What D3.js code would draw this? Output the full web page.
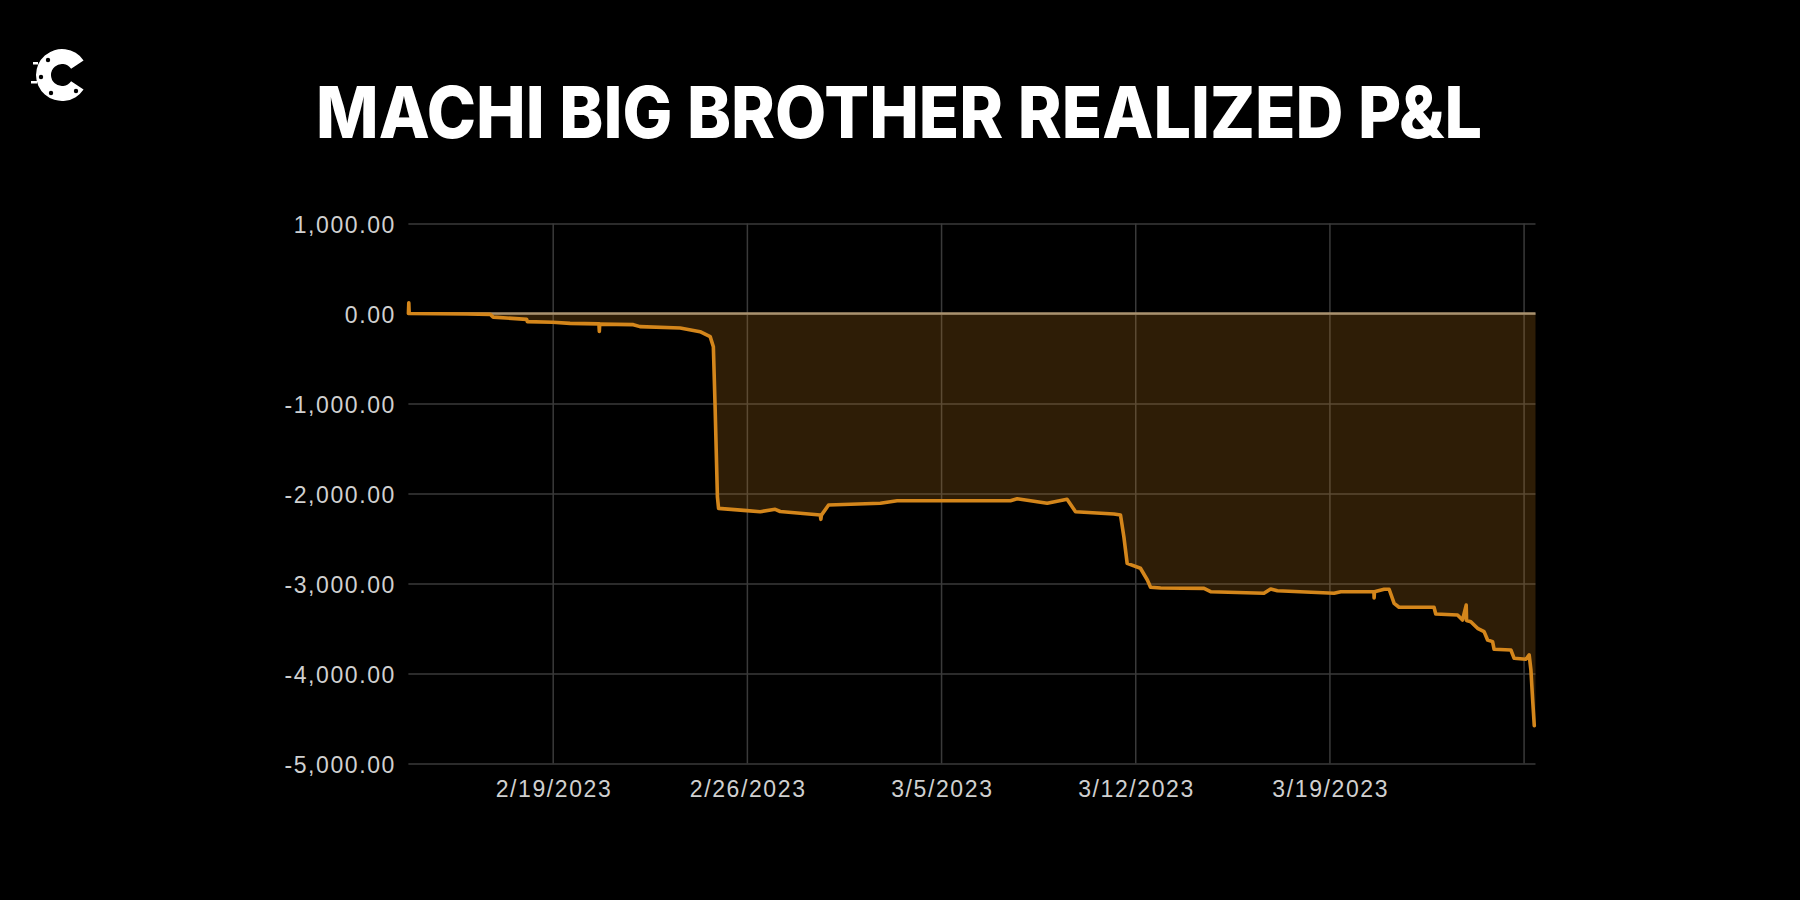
<!DOCTYPE html>
<html>
<head>
<meta charset="utf-8">
<script src="https://cdn.jsdelivr.net/npm/d3@7"></script>
<style>
  html, body { margin: 0; padding: 0; background: #000; }
  svg { display: block; }
</style>
</head>
<body>
<svg id="chart" width="1800" height="900"></svg>
<script>
// ---------------- data ----------------
const titleText = "MACHI BIG BROTHER REALIZED P&L";

const timestamps = [
  "2023-02-13T19:10", "2023-02-13T19:30", "2023-02-13T19:50", "2023-02-15T21:30", "2023-02-16T18:00",
  "2023-02-16T20:30", "2023-02-18T01:30", "2023-02-18T02:00", "2023-02-19T00:00", "2023-02-19T15:00",
  "2023-02-20T16:00", "2023-02-20T16:20", "2023-02-20T16:40", "2023-02-21T21:45", "2023-02-22T03:30",
  "2023-02-23T14:15", "2023-02-24T07:30", "2023-02-24T16:15", "2023-02-24T19:00", "2023-02-24T20:30",
  "2023-02-24T22:30", "2023-02-24T23:30", "2023-02-26T00:00", "2023-02-26T11:30", "2023-02-27T00:30",
  "2023-02-27T04:50", "2023-02-28T15:30", "2023-02-28T16:00", "2023-02-28T16:30", "2023-02-28T22:40",
  "2023-03-02T19:30", "2023-03-03T10:00", "2023-03-05T01:00", "2023-03-07T12:00", "2023-03-07T17:50",
  "2023-03-08T19:50", "2023-03-09T13:00", "2023-03-09T20:20", "2023-03-11T05:30", "2023-03-11T11:15",
  "2023-03-11T14:10", "2023-03-11T17:00", "2023-03-12T04:30", "2023-03-12T10:30", "2023-03-12T13:15",
  "2023-03-12T22:00", "2023-03-14T11:30", "2023-03-14T17:15", "2023-03-16T15:20", "2023-03-16T21:10",
  "2023-03-17T03:00", "2023-03-19T04:00", "2023-03-19T09:50", "2023-03-20T14:30", "2023-03-20T14:40",
  "2023-03-20T15:00", "2023-03-20T23:20", "2023-03-21T03:40", "2023-03-21T08:00", "2023-03-21T12:15",
  "2023-03-22T18:30", "2023-03-22T20:00", "2023-03-23T14:50", "2023-03-23T19:10", "2023-03-23T22:20",
  "2023-03-23T22:40", "2023-03-24T02:20", "2023-03-24T08:10", "2023-03-24T13:50", "2023-03-24T16:50",
  "2023-03-24T21:10", "2023-03-24T22:30", "2023-03-25T13:00", "2023-03-25T15:50", "2023-03-26T02:00",
  "2023-03-26T04:50", "2023-03-26T06:20", "2023-03-26T07:50", "2023-03-26T09:15"
];

const pnl = [
  0, 120, 0, -5, -10,
  -40, -65, -90, -98, -110,
  -115, -200, -118, -124, -146,
  -161, -202, -257, -369, -1036,
  -2036, -2165, -2190, -2202, -2176,
  -2200, -2239, -2287, -2240, -2128,
  -2109, -2080, -2080, -2080, -2058,
  -2109, -2064, -2202, -2228, -2239,
  -2480, -2776, -2831, -2961, -3042,
  -3050, -3054, -3091, -3109, -3061,
  -3080, -3109, -3091, -3091, -3160,
  -3091, -3064, -3064, -3220, -3264,
  -3264, -3339, -3350, -3406, -3240,
  -3410, -3424, -3498, -3535, -3628,
  -3646, -3731, -3739, -3831, -3842,
  -3794, -3961, -4294, -4580
];

const yTicks = [1000, 0, -1000, -2000, -3000, -4000, -5000];
const yTickLabels = ["1,000.00", "0.00", "-1,000.00", "-2,000.00", "-3,000.00", "-4,000.00", "-5,000.00"];

const xGridDates = ["2023-02-19", "2023-02-26", "2023-03-05", "2023-03-12", "2023-03-19", "2023-03-26"];
const xTickLabels = ["2/19/2023", "2/26/2023", "3/5/2023", "3/12/2023", "3/19/2023", ""];

const xDomain = ["2023-02-13T19:09", "2023-03-26T10:18"];
const yDomain = [-5000, 1000];

// ---------------- setup ----------------
const parseT = d3.utcParse("%Y-%m-%dT%H:%M");
const parseD = d3.utcParse("%Y-%m-%d");
const data = timestamps.map((t, i) => ({ t: parseT(t), v: pnl[i] }));
const gridDates = xGridDates.map(parseD);

const svg = d3.select("#chart");
const W = 1800, H = 900;
svg.append("rect").attr("width", W).attr("height", H).attr("fill", "#000");

const plot = { left: 408.4, right: 1535.5, top: 223.5, bottom: 763.5 };

const x = d3.scaleUtc().domain(xDomain.map(parseT)).range([plot.left, plot.right]);
const y = d3.scaleLinear().domain(yDomain).range([plot.bottom, plot.top]);

// title
svg.append("text")
  .attr("x", 899)
  .attr("y", 138)
  .attr("text-anchor", "middle")
  .attr("fill", "#ffffff")
  .attr("font-family", "Inter, 'Noto Sans', sans-serif")
  .attr("font-weight", 800)
  .attr("font-size", 72)
  .attr("textLength", 1166)
  .attr("lengthAdjust", "spacingAndGlyphs")
  .text(titleText);

// logo
const logo = svg.append("g").attr("transform", "translate(62,75)");
logo.append("path")
  .attr("d", d3.arc()
    .innerRadius(11)
    .outerRadius(26)
    .startAngle(Math.PI * 124 / 180)
    .endAngle(Math.PI * 416 / 180)())
  .attr("fill", "#fff");
logo.append("rect").attr("x", -29).attr("y", -13).attr("width", 5).attr("height", 2.5).attr("fill", "#fff");
logo.append("rect").attr("x", -31).attr("y", 6).attr("width", 6).attr("height", 2.5).attr("fill", "#fff");
[[-14, -15], [-11, 18], [14, 16], [-21, 2]].forEach(([cx, cy]) => {
  logo.append("circle").attr("cx", cx).attr("cy", cy).attr("r", 2.2).attr("fill", "#000");
});

// grid: horizontal
const gridColor = "#3a3a3a";
const gy = svg.append("g")
  .attr("transform", `translate(${plot.left},0)`)
  .call(d3.axisLeft(y).tickValues(yTicks).tickSize(-(plot.right - plot.left)).tickFormat(""));
gy.select(".domain").remove();
gy.selectAll(".tick line").attr("stroke", gridColor).attr("stroke-width", 1.5);

// grid: vertical
const gx = svg.append("g")
  .attr("transform", `translate(0,${plot.bottom})`)
  .call(d3.axisBottom(x).tickValues(gridDates).tickSize(-(plot.bottom - plot.top)).tickFormat(""));
gx.select(".domain").remove();
gx.selectAll(".tick line").attr("stroke", gridColor).attr("stroke-width", 1.5);

// y-axis labels
const yAxis = svg.append("g")
  .attr("transform", `translate(${plot.left - 14},0)`)
  .call(d3.axisLeft(y).tickValues(yTicks).tickSize(0).tickPadding(0)
    .tickFormat((d, i) => yTickLabels[i]));
yAxis.select(".domain").remove();
yAxis.selectAll(".tick text")
  .attr("fill", "#d0d0d0")
  .attr("font-family", "'Liberation Sans', Arial, sans-serif")
  .attr("font-size", 23)
  .attr("letter-spacing", "1.6px")
  .attr("dy", null)
  .attr("y", 9)
  .attr("x", 1.6);

// x-axis labels
const xAxis = svg.append("g")
  .attr("transform", `translate(0,${plot.bottom})`)
  .call(d3.axisBottom(x).tickValues(gridDates).tickSize(0).tickPadding(0)
    .tickFormat((d, i) => xTickLabels[i]));
xAxis.select(".domain").remove();
xAxis.selectAll(".tick text")
  .attr("fill", "#d0d0d0")
  .attr("font-family", "'Liberation Sans', Arial, sans-serif")
  .attr("font-size", 23)
  .attr("letter-spacing", "1.6px")
  .attr("dy", null)
  .attr("y", 33.5)
  .attr("x", 0.8);

// area fill
const area = d3.area().x(d => x(d.t)).y0(y(0)).y1(d => y(Math.min(d.v, 0)));
const fillData = data.concat([{ t: x.domain()[1], v: data[data.length - 1].v }]);
svg.append("path")
  .datum(fillData)
  .attr("d", area)
  .attr("fill", "#d98b1c")
  .attr("fill-opacity", 0.21);

// zero line
svg.append("line")
  .attr("x1", plot.left).attr("x2", plot.right)
  .attr("y1", y(0)).attr("y2", y(0))
  .attr("stroke", "#a8916e")
  .attr("stroke-width", 2.5);

// P&L line
const line = d3.line().x(d => x(d.t)).y(d => y(d.v));
svg.append("path")
  .datum(data)
  .attr("d", line)
  .attr("fill", "none")
  .attr("stroke", "#d4861b")
  .attr("stroke-width", 3.6)
  .attr("stroke-linejoin", "round")
  .attr("stroke-linecap", "round");
</script>
</body>
</html>
